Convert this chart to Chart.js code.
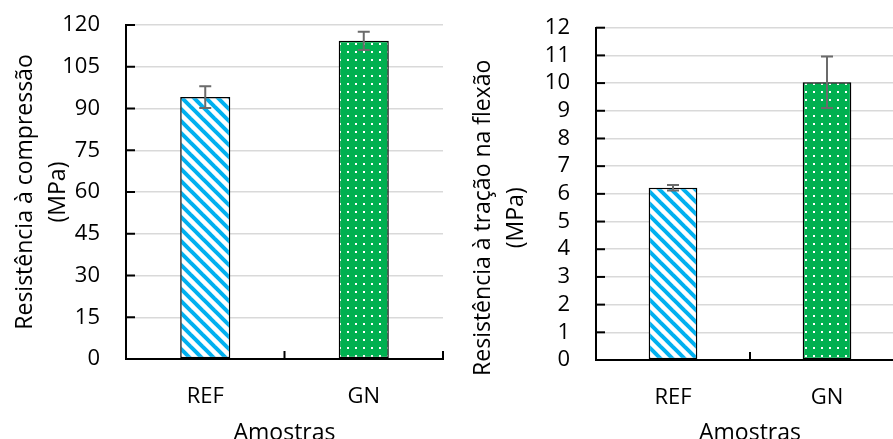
<!DOCTYPE html>
<html lang="pt">
  <head>
    <meta charset="UTF-8" />
    <title>Resistência - REF x GN</title>
    <script src="https://cdn.jsdelivr.net/npm/chart.js"></script>
    <style>
      html, body {
        margin: 0;
        padding: 0;
        background: #fff;
        overflow: hidden;
        width: 893px;
        height: 439px;
      }
      canvas {
        position: absolute;
        top: 0;
      }
      #compressaoChart { left: 0; }
      #flexaoChart { left: 458px; }
    </style>
  </head>
  <body>
    <canvas id="compressaoChart" width="450" height="455"></canvas>
    <canvas id="flexaoChart" width="450" height="455"></canvas>

    <script>
      // Data
      const categories = ['REF', 'GN'];
      const compressao = [94.1, 114.3];
      const compressaoErr = [3.9, 3.3];
      const flexao = [6.22, 10.03];
      const flexaoErr = [0.1, 0.93];
      const compressaoTicks = { max: 120, step: 15 };
      const flexaoTicks = { max: 12, step: 1 };

      const FONT = "'Open Sans', sans-serif";

      // Fill patterns like the Excel ones
      function stripePattern() {
        const c = document.createElement('canvas');
        c.width = 12; c.height = 12;
        const g = c.getContext('2d');
        g.fillStyle = '#fff';
        g.fillRect(0, 0, 12, 12);
        g.strokeStyle = '#00b0f0';
        g.lineWidth = 4;
        for (const off of [-12, 0, 12]) {
          g.beginPath();
          g.moveTo(off - 2, -2);
          g.lineTo(off + 14, 14);
          g.stroke();
        }
        return g.createPattern(c, 'repeat');
      }

      function dotPattern() {
        const c = document.createElement('canvas');
        c.width = 8; c.height = 8;
        const g = c.getContext('2d');
        g.fillStyle = '#00b050';
        g.fillRect(0, 0, 8, 8);
        g.fillStyle = '#fff';
        g.fillRect(3, 3, 2, 2);
        return g.createPattern(c, 'repeat');
      }

      // error bars + inside tick marks
      const extras = {
        id: 'extras',
        afterDatasetsDraw(chart, args, opts) {
          const ctx = chart.ctx;
          const y = chart.scales.y;
          const x = chart.scales.x;
          const area = chart.chartArea;
          const meta = chart.getDatasetMeta(0);
          const values = chart.data.datasets[0].data;

          ctx.save();
          ctx.strokeStyle = '#6b6b6b';
          ctx.lineWidth = 2;
          meta.data.forEach((bar, i) => {
            const top = y.getPixelForValue(values[i] + opts.errors[i]);
            const bot = y.getPixelForValue(values[i] - opts.errors[i]);
            ctx.beginPath();
            ctx.moveTo(bar.x, top); ctx.lineTo(bar.x, bot);
            ctx.moveTo(bar.x - 6, top); ctx.lineTo(bar.x + 6, top);
            ctx.moveTo(bar.x - 6, bot); ctx.lineTo(bar.x + 6, bot);
            ctx.stroke();
          });

          ctx.strokeStyle = '#000';
          ctx.lineWidth = 2;
          y.ticks.forEach((t, i) => {
            const py = y.getPixelForTick(i);
            ctx.beginPath();
            ctx.moveTo(area.left, py); ctx.lineTo(area.left + 9, py);
            ctx.stroke();
          });
          for (let i = 0; i <= categories.length; i++) {
            const px = x.getPixelForValue(i - 0.5);
            ctx.beginPath();
            ctx.moveTo(px, area.bottom); ctx.lineTo(px, area.bottom - 8);
            ctx.stroke();
          }
          ctx.restore();
        }
      };

      function makeChart(id, values, errors, ticks, yTitle, yWidth, padTop, padRight, xHeight) {
        const fill = [stripePattern(), dotPattern()];
        return new Chart(document.getElementById(id), {
          type: 'bar',
          data: {
            labels: categories,
            datasets: [{
              data: values,
              backgroundColor: fill,
              borderColor: '#000',
              borderWidth: 1.5,
              borderSkipped: false,
              categoryPercentage: 1,
              barPercentage: 0.316
            }]
          },
          options: {
            responsive: false,
            animation: false,
            layout: { padding: { top: padTop, right: padRight, left: 0, bottom: 0 } },
            plugins: {
              legend: { display: false },
              tooltip: { enabled: false },
              extras: { errors: errors }
            },
            scales: {
              x: {
                offset: true,
                grid: { display: false, drawTicks: false },
                border: { display: true, color: '#000', width: 2 },
                ticks: { color: '#000', padding: 25, font: { family: FONT, size: 22 } },
                title: {
                  display: true,
                  text: 'Amostras',
                  color: '#000',
                  font: { family: FONT, size: 23 },
                  padding: { top: 0, bottom: 8 }
                },
                afterFit(scale) { scale.height = xHeight; }
              },
              y: {
                min: 0,
                max: ticks.max,
                // invisible tick marks keep the labels 26px off the axis
                grid: {
                  color: '#d9d9d9',
                  lineWidth: 1.5,
                  drawTicks: true,
                  tickLength: 26,
                  tickColor: 'rgba(0,0,0,0)'
                },
                border: { display: true, color: '#000', width: 2 },
                ticks: {
                  stepSize: ticks.step,
                  autoSkip: false,
                  color: '#000',
                  padding: 0,
                  font: { family: FONT, size: 22 }
                },
                title: {
                  display: true,
                  text: yTitle,
                  color: '#000',
                  font: { family: FONT, size: 23, lineHeight: '33px' },
                  padding: { top: 8.5, bottom: 0 }
                },
                afterFit(scale) { scale.width = yWidth; }
              }
            }
          },
          plugins: [extras]
        });
      }

      makeChart('compressaoChart', compressao, compressaoErr, compressaoTicks,
        ['Resistência à compressão', '(MPa)'], 126, 25, 7, 96);
      // this title sits lower than the plot centre in the original, spaces nudge it down
      makeChart('flexaoChart', flexao, flexaoErr, flexaoTicks,
        ['Resistência à tração na flexão        ', '(MPa)        '], 138, 27.7, 4, 95);
    </script>
  </body>
</html>
